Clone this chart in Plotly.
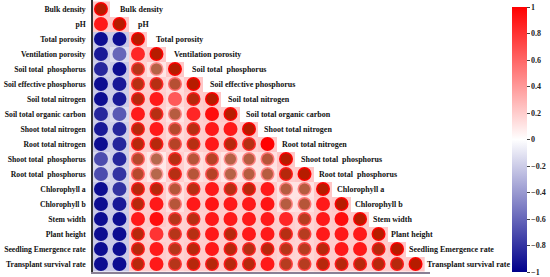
import numpy as np
import plotly.graph_objects as go

variables = [
    "Bulk density", "pH", "Total porosity", "Ventilation porosity",
    "Soil total\u00a0 phosphorus", "Soil effective phosphorus", "Soil total nitrogen",
    "Soil total organic carbon", "Shoot total nitrogen", "Root total nitrogen",
    "Shoot total\u00a0 phosphorus", "Root total\u00a0 phosphorus", "Chlorophyll a",
    "Chlorophyll b", "Stem width", "Plant height", "Seedling Emergence rate",
    "Transplant survival rate",
]

# lower-triangle correlation coefficients (row i, columns 0..i)
corr_rows = [
    [1],
    [0.9, 1],
    [-0.95, -0.95, 1],
    [-0.9, -0.6, 0.85, 1],
    [-0.85, -0.95, 0.8, 0.45, 1],
    [-0.95, -0.9, 0.85, 0.85, 0.6, 1],
    [-0.95, -0.9, 0.9, 0.9, 0.65, 0.9, 1],
    [-0.85, -0.65, 0.9, 0.85, 0.5, 0.85, 0.95, 1],
    [-0.9, -0.85, 0.9, 0.9, 0.65, 0.85, 0.9, 0.9, 1],
    [-0.95, -0.85, 0.9, 0.9, 0.7, 0.85, 0.9, 0.9, 0.85, 1],
    [-0.7, -0.85, 0.65, 0.4, 0.85, 0.55, 0.7, 0.45, 0.5, 0.55, 1],
    [-0.7, -0.8, 0.65, 0.4, 0.85, 0.55, 0.7, 0.45, 0.5, 0.5, 0.9, 1],
    [-0.95, -0.8, 0.9, 0.9, 0.55, 0.85, 0.9, 0.85, 0.9, 0.9, 0.5, 0.5, 1],
    [-0.95, -0.9, 0.9, 0.9, 0.55, 0.9, 0.92, 0.9, 0.9, 0.92, 0.5, 0.55, 0.9, 1],
    [-0.95, -0.95, 0.9, 0.95, 0.8, 0.85, 0.9, 0.9, 0.9, 0.9, 0.85, 0.75, 0.9, 0.95, 1],
    [-0.95, -0.95, 0.9, 0.8, 0.8, 0.85, 0.9, 0.9, 0.9, 0.9, 0.85, 0.75, 0.9, 0.9, 0.9, 1],
    [-0.95, -0.95, 0.9, 0.9, 0.8, 0.9, 0.9, 0.9, 0.85, 0.9, 0.8, 0.75, 0.9, 0.9, 0.9, 0.9, 1],
    [-0.95, -0.95, 0.9, 0.9, 0.8, 0.9, 0.9, 0.9, 0.9, 0.9, 0.75, 0.75, 0.9, 0.9, 0.9, 0.9, 0.9, 1],
]

# significance marks (1 = significant, drawn as dark overlay)
sig_rows = [
    [1],
    [0, 1],
    [0, 0, 1],
    [0, 0, 0, 1],
    [0, 0, 1, 1, 1],
    [0, 0, 1, 1, 1, 1],
    [0, 0, 1, 0, 0, 1, 1],
    [0, 0, 0, 1, 1, 0, 0, 1],
    [0, 0, 1, 0, 1, 1, 0, 0, 1],
    [0, 0, 1, 1, 1, 1, 0, 1, 1, 0],
    [0, 0, 1, 1, 1, 1, 1, 1, 1, 1, 1],
    [0, 0, 1, 1, 1, 1, 1, 1, 1, 1, 1, 1],
    [0, 0, 1, 1, 1, 1, 0, 1, 1, 0, 1, 1, 1],
    [0, 0, 1, 0, 1, 0, 0, 0, 0, 0, 1, 1, 0, 1],
    [0, 0, 0, 0, 1, 1, 0, 0, 0, 0, 0, 1, 0, 0, 1],
    [0, 0, 1, 0, 1, 1, 0, 1, 0, 0, 1, 1, 0, 0, 0, 1],
    [0, 0, 1, 0, 1, 1, 0, 1, 1, 1, 1, 1, 1, 0, 0, 1, 1],
    [0, 0, 1, 0, 1, 1, 1, 1, 1, 0, 1, 1, 1, 1, 1, 1, 1, 1],
]

colorbar_ticks = [1, 0.8, 0.6, 0.4, 0.2, 0, -0.2, -0.4, -0.6, -0.8, -1]

n = len(variables)
cscale = [[0.0, "#00008B"], [0.5, "#FFFFFF"], [1.0, "#FF0000"]]
FONT = "Liberation Serif"

z = np.full((n, n), np.nan)
xs, ys, vs, sx, sy = [], [], [], [], []
for i, row in enumerate(corr_rows):
    for j, v in enumerate(row):
        z[i, j] = v
        xs.append(j); ys.append(i); vs.append(v)
        if sig_rows[i][j]:
            sx.append(j); sy.append(i)

fig = go.Figure()
fig.add_trace(go.Heatmap(z=z, x=list(range(n)), y=list(range(n)), colorscale=cscale,
                         zmin=-1, zmax=1, opacity=0.22, showscale=False, hoverinfo="skip"))
fig.add_trace(go.Scatter(
    x=xs, y=ys, mode="markers",
    marker=dict(size=14, color=vs, colorscale=cscale, cmin=-1, cmax=1, line=dict(width=0),
                showscale=True,
                colorbar=dict(x=1.243, xanchor="left", y=0, yanchor="bottom", len=0.974,
                              lenmode="fraction", thickness=15, outlinewidth=0,
                              xpad=0, ypad=0,
                              tickvals=colorbar_ticks, ticks="outside", ticklen=3,
                              tickcolor="#444",
                              tickfont=dict(family=FONT, size=8, color="#222", weight="bold"))),
    showlegend=False, hoverinfo="skip"))
fig.add_trace(go.Scatter(
    x=sx, y=sy, mode="markers",
    marker=dict(size=11, color="rgba(110,55,0,0.5)", line=dict(width=0)),
    showlegend=False, hoverinfo="skip"))

for i, name in enumerate(variables):
    fig.add_annotation(x=i, y=i, text=name, showarrow=False, xanchor="left",
                       xshift=17 - 0.45 * i, yshift=0,
                       font=dict(family=FONT, size=8, color="#111", weight="bold"))

fig.update_layout(
    width=550, height=277,
    margin=dict(l=93, r=120, t=0, b=5, autoexpand=False),
    plot_bgcolor="white", paper_bgcolor="white",
    xaxis=dict(range=[-0.43, 17.78], showgrid=False, zeroline=False, showticklabels=False,
               showline=True, linecolor="#8a7f95", linewidth=2, mirror=False, fixedrange=True,
               automargin=False),
    yaxis=dict(range=[17.53, -0.6], showgrid=False, zeroline=False,
               tickvals=list(range(n)), ticktext=variables, ticks="",
               showline=True, linecolor="#333", linewidth=1.5, automargin=False,
               tickfont=dict(family=FONT, size=7.7, color="#111", weight="bold"),
               ticklabelstandoff=4),
)
fig.write_html("out.html", config={"displayModeBar": False},
               post_script="document.body.style.margin='0';")
